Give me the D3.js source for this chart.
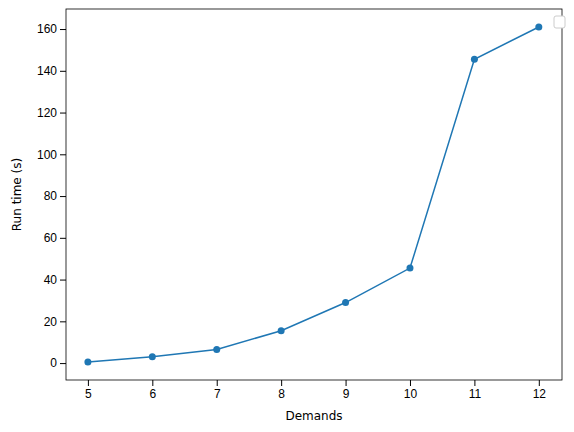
<!DOCTYPE html>
<html><head><meta charset="utf-8">
<script src="https://cdn.jsdelivr.net/npm/d3@7"></script>
<style>body{margin:0;background:#fff}svg{font-family:"DejaVu Sans",sans-serif}</style>
</head><body><svg id="c" width="574" height="432"></svg>
<script>
const demands = [5, 6, 7, 8, 9, 10, 11, 12]
const runTime = [0.5, 3, 6.5, 15.5, 29, 45.5, 145.5, 161]
const yTicks = [0, 20, 40, 60, 80, 100, 120, 140, 160]

const svg = d3.select('#c')
const L = 66, R = 562, T = 9, B = 380
const x = d3.scaleLinear().domain([4.66, 12.36]).range([L, R])
const y = d3.scaleLinear().domain([-8.1, 169.6]).range([B, T])

svg.append('g').attr('transform', `translate(0,${B})`)
  .call(d3.axisBottom(x).tickValues(demands).tickFormat(d3.format('d')).tickSizeOuter(0))
svg.append('g').attr('transform', `translate(${L},0)`)
  .call(d3.axisLeft(y).tickValues(yTicks).tickSizeOuter(0))
svg.selectAll('.tick text').attr('font-size', 12).attr('fill', '#000')
svg.selectAll('.domain').remove()
svg.append('rect').attr('x', L).attr('y', T).attr('width', R - L).attr('height', B - T)
  .attr('fill', 'none').attr('stroke', '#000').attr('stroke-width', 0.8)

const pts = demands.map((d, i) => [d, runTime[i]])
svg.append('path').datum(pts)
  .attr('d', d3.line().x(d => x(d[0])).y(d => y(d[1])))
  .attr('fill', 'none').attr('stroke', '#1f77b4').attr('stroke-width', 1.5)
svg.selectAll('circle.p').data(pts).enter().append('circle')
  .attr('cx', d => x(d[0])).attr('cy', d => y(d[1])).attr('r', 3.5).attr('fill', '#1f77b4')

svg.append('text').attr('x', (L + R) / 2).attr('y', 420).attr('text-anchor', 'middle')
  .attr('font-size', 12).text('Demands')
svg.append('text').attr('transform', `translate(21,${(T + B) / 2}) rotate(-90)`)
  .attr('text-anchor', 'middle').attr('font-size', 12).text('Run time (s)')

// empty legend box
svg.append('rect').attr('x', 554).attr('y', 16).attr('width', 11).attr('height', 12).attr('rx', 2)
  .attr('fill', '#fff').attr('stroke', '#ccc')
</script></body></html>
